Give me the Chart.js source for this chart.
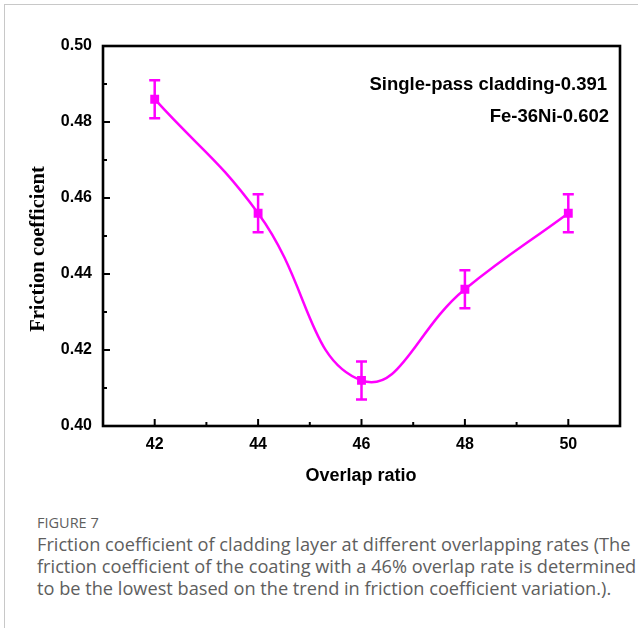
<!DOCTYPE html>
<html>
<head>
<meta charset="utf-8">
<script src="https://cdn.jsdelivr.net/npm/chart.js@4"></script>
<style>
  html, body { margin: 0; padding: 0; background: #fff; }
  body { width: 638px; height: 628px; overflow: hidden; position: relative; }
  #frame { position: absolute; left: 4px; top: 4px; width: 700px; height: 700px;
           border-top: 1px solid #c8c8c8; border-left: 1px solid #c8c8c8; }
  #wrap { position: absolute; left: 0; top: 0; width: 638px; height: 500px; }
  #caption { position: absolute; left: 37px; top: 513px; width: 600px; white-space: nowrap;
             font-family: "Open Sans", "Noto Sans", sans-serif; color: #5e5e5e; }
  #caption .fig { font-size: 14.5px; line-height: 20px; }
  #caption .txt { font-size: 18.2px; line-height: 22px; }
</style>
</head>
<body>
<div id="frame"></div>
<div id="wrap"><canvas id="myChart" width="638" height="500"></canvas></div>
<div id="caption">
  <div class="fig">FIGURE 7</div>
  <div class="txt">Friction coefficient of cladding layer at different overlapping rates (The<br>friction coefficient of the coating with a 46% overlap rate is determined<br>to be the lowest based on the trend in friction coefficient variation.).</div>
</div>
<script>
// dados
const overlap = [42, 44, 46, 48, 50];
const friction = [0.486, 0.456, 0.412, 0.436, 0.456];
const erro = [0.005, 0.005, 0.005, 0.005, 0.005];
const xTicks = [42, 44, 46, 48, 50];
const yTicks = [0.40, 0.42, 0.44, 0.46, 0.48, 0.50];
const notas = ['Single-pass cladding-0.391', 'Fe-36Ni-0.602'];
const tituloX = 'Overlap ratio';
const tituloY = 'Friction coefficient';

const cor = '#ff00ff';

// barras de erro, moldura, ticks para dentro e textos
const extras = {
  id: 'extras',
  afterDatasetsDraw(chart) {
    const c = chart.ctx;
    const xs = chart.scales.x, ys = chart.scales.y;
    const a = chart.chartArea;
    c.save();
    // barras de erro
    c.strokeStyle = cor;
    c.lineWidth = 2.5;
    overlap.forEach((v, i) => {
      const px = xs.getPixelForValue(v);
      const top = ys.getPixelForValue(friction[i] + erro[i]);
      const bot = ys.getPixelForValue(friction[i] - erro[i]);
      c.beginPath();
      c.moveTo(px, top); c.lineTo(px, bot);
      c.moveTo(px - 5.5, top); c.lineTo(px + 5.5, top);
      c.moveTo(px - 5.5, bot); c.lineTo(px + 5.5, bot);
      c.stroke();
    });
    // moldura
    c.strokeStyle = '#000';
    c.lineWidth = 2.6;
    c.strokeRect(a.left, a.top, a.right - a.left, a.bottom - a.top);
    // ticks
    c.lineWidth = 2;
    for (let v = 41; v <= 51; v++) {
      const px = xs.getPixelForValue(v);
      const len = v % 2 === 0 ? 7 : 4;
      c.beginPath(); c.moveTo(px, a.bottom); c.lineTo(px, a.bottom - len); c.stroke();
    }
    for (let k = 0; k <= 10; k++) {
      const py = ys.getPixelForValue(0.40 + k * 0.01);
      const len = k % 2 === 0 ? 7 : 4;
      c.beginPath(); c.moveTo(a.left, py); c.lineTo(a.left + len, py); c.stroke();
    }
    // anotações
    c.fillStyle = '#000';
    c.font = 'bold 18.5px "Liberation Sans", Arial, sans-serif';
    c.textAlign = 'right';
    c.textBaseline = 'middle';
    c.fillText(notas[0], 607, 85);
    c.fillText(notas[1], 609, 117);
    // títulos dos eixos
    c.textAlign = 'center';
    c.font = 'bold 18px "Liberation Sans", Arial, sans-serif';
    c.fillText(tituloX, 361, 476);
    c.translate(39, 249);
    c.rotate(-Math.PI / 2);
    c.font = 'bold 20.5px "Liberation Serif", "Times New Roman", serif';
    c.fillText(tituloY, 0, 0);
    c.restore();
  }
};

const ctx = document.getElementById('myChart');

new Chart(ctx, {
  type: 'line',
  data: {
    datasets: [{
      data: overlap.map((v, i) => ({ x: v, y: friction[i] })),
      borderColor: cor,
      backgroundColor: cor,
      borderWidth: 2.5,
      tension: 0.45,
      pointStyle: 'rect',
      pointRadius: 4.5,
      pointHoverRadius: 4.5
    }]
  },
  options: {
    responsive: false,
    animation: false,
    layout: { padding: { top: 46, right: 18, left: 0, bottom: 0 } },
    plugins: { legend: { display: false }, tooltip: { enabled: false } },
    scales: {
      x: {
        type: 'linear', min: 41, max: 51,
        afterBuildTicks: s => { s.ticks = xTicks.map(v => ({ value: v })); },
        afterFit: s => { s.height = 74; },
        grid: { display: false },
        border: { display: false },
        ticks: { color: '#000', font: { family: '"Liberation Sans", Arial', size: 16, weight: 'bold' }, padding: 1 }
      },
      y: {
        min: 0.40, max: 0.50,
        afterBuildTicks: s => { s.ticks = yTicks.map(v => ({ value: v })); },
        afterFit: s => { s.width = 103; },
        grid: { display: false },
        border: { display: false },
        ticks: { color: '#000', font: { family: '"Liberation Sans", Arial', size: 16, weight: 'bold' },
                 padding: 3, callback: v => v.toFixed(2) }
      }
    }
  },
  plugins: [extras]
});
</script>
</body>
</html>
